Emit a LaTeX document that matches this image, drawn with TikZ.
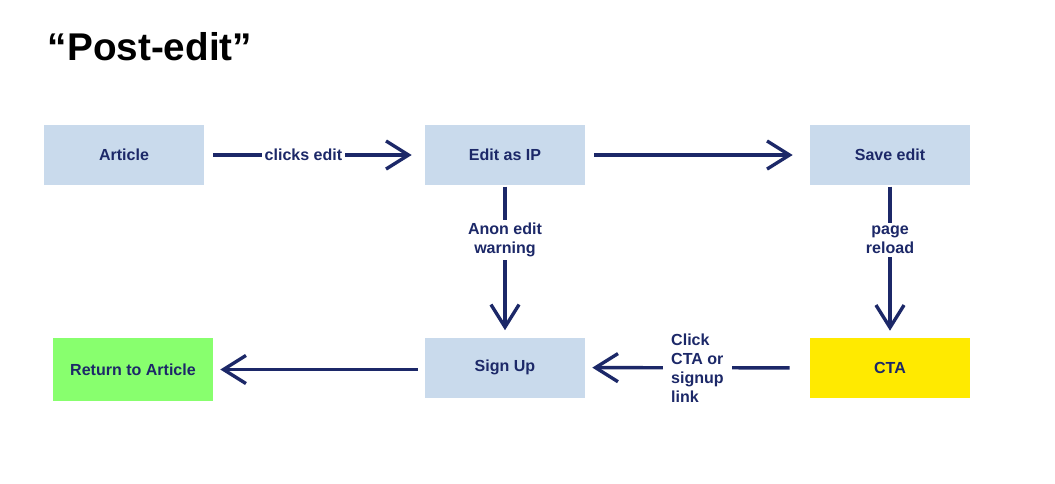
\documentclass[tikz,border=0pt]{standalone}
\usepackage{fontspec}
\setmainfont{Liberation Sans}
\usetikzlibrary{arrows.meta}

\definecolor{boxblue}{RGB}{201,218,236}
\definecolor{ctayellow}{RGB}{255,234,0}
\definecolor{backgreen}{RGB}{136,255,110}
\definecolor{navy}{RGB}{28,40,104}

\tikzset{
    stepbox/.style={fill=boxblue, minimum width=4cm, minimum height=1.5cm, inner sep=0pt,
        text=navy, font=\fontsize{11.4}{13}\selectfont\bfseries},
    flow/.style={-{Straight Barb[length=16pt, width=20pt]}, navy, line width=2.4pt},
    flowlabel/.style={fill=white, text=navy, inner sep=2pt,
        font=\fontsize{11.4}{13.5}\selectfont\bfseries}
}

\begin{document}
\begin{tikzpicture}[x=0.025cm, y=-0.025cm]
    \useasboundingbox (0,0) rectangle (1055,483);

    \node[anchor=base west, font=\fontsize{27.5}{30}\selectfont\bfseries] (title) at (43,60) {“Post-edit”};

    % top row
    \node[stepbox] (article) at (124,155) {Article};
    \node[stepbox] (editip) at (505,155) {Edit as IP};
    \node[stepbox] (saveedit) at (890,155) {Save edit};

    % bottom row
    \node[stepbox, fill=backgreen, minimum height=1.575cm] (return) at (133,369.5) {Return to Article};
    \node[stepbox] (signup) at (505,367.5) {Sign Up};
    \node[stepbox, fill=ctayellow] (cta) at (890,368) {CTA};

    \draw[flow, shorten <=9pt*0.711, shorten >=13pt*0.711] (article) -- (editip)
        node[flowlabel, pos=0.45] {clicks edit};
    \draw[flow, shorten <=9pt*0.711, shorten >=17pt*0.711] (editip) -- (saveedit);
    \draw[flow, shorten <=1pt, shorten >=7pt*0.711] (editip) -- (signup)
        node[flowlabel, pos=0.36, align=center] {Anon edit\\warning};
    \draw[flow, shorten <=1pt, shorten >=7pt*0.711] (saveedit) -- (cta)
        node[flowlabel, pos=0.36, align=center] {page\\reload};
    \draw[flow, shorten <=20pt*0.711, shorten >=7pt*0.711] (cta) -- (signup)
        node[flowlabel, midway, align=left, inner xsep=6pt] {Click\\CTA or\\signup\\link};
    \draw[flow, shorten <=7pt*0.711, shorten >=7pt*0.711] (signup.west |- return) -- (return);
\end{tikzpicture}
\end{document}
